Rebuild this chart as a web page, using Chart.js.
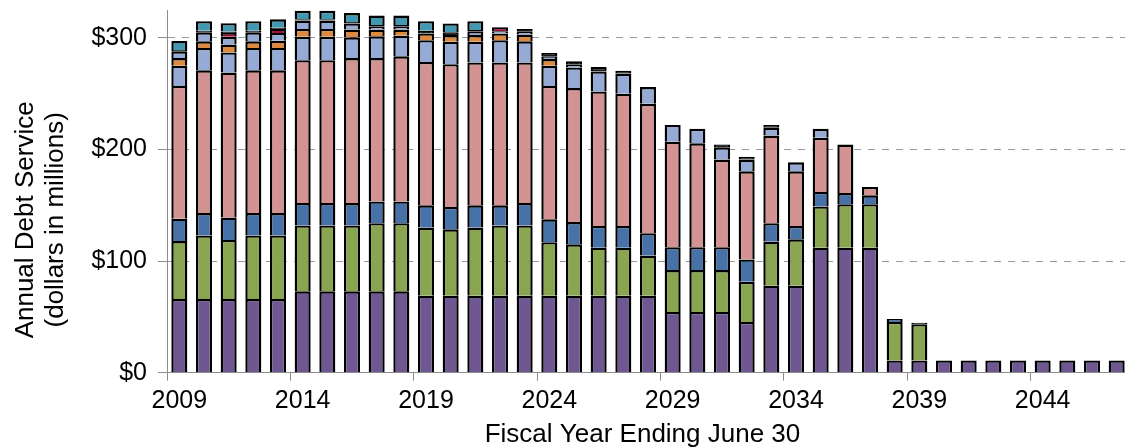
<!DOCTYPE html>
<html>
<head>
<meta charset="utf-8">
<script src="https://cdn.jsdelivr.net/npm/chart.js@4/dist/chart.umd.min.js"></script>
<style>
  html, body { margin: 0; padding: 0; background: #fff; overflow: hidden; }
  #wrap { position: relative; width: 1129px; height: 447px; }
</style>
</head>
<body>
<div id="wrap"><canvas id="c"></canvas></div>
<script>
const years = ['2009','2010','2011','2012','2013','2014','2015','2016','2017','2018','2019','2020','2021','2022','2023','2024','2025','2026','2027','2028','2029','2030','2031','2032','2033','2034','2035','2036','2037','2038','2039','2040','2041','2042','2043','2044','2045','2046','2047'];
const yTicks = [0, 100, 200, 300];
const xTitle = 'Fiscal Year Ending June 30';
const yTitle = ['Annual Debt Service', '(dollars in millions)'];

const seriesPurple  = [66,66,66,66,66, 73,73,73,73,73, 69,69,69,69,69, 69,69,69,69,69, 54.5,54.5,54.5,45.5,78, 78,112,112,112, 11,11, 11,11,11,11,11,11,11,11];
const seriesGreen   = [52,57,53,57,57, 59,59,59,61,61, 61,59.5,61,63,63, 48,46,43,43,36, 37.5,37.5,37.5,36,39.5, 41.5,37,39,39, 34.5,32.5, 0,0,0,0,0,0,0,0];
const seriesBlue    = [20,20,20,20,20, 20,20,20,19.5,19.5, 20,20,20,18,20, 20.5,20,19.5,19.5,20, 20.5,20.5,20.5,20,16.5, 12,13,10,8, 2.6,0, 0,0,0,0,0,0,0,0];
const seriesPink    = [119,128,130,128,128, 128,128,130,128.5,130, 128.5,128,128,128,126, 119.5,120,120.5,118.5,116, 94.5,93,78.5,79,78.5, 49,48.5,43.5,7.5, 0,0, 0,0,0,0,0,0,0,0];
const seriesLight   = [18,20,18,20,20, 21,21,18.5,19.5,18.5, 19.5,20,18.5,20,19, 18,18.5,18,18,15, 15,13,11,10.5,7, 8,8,0,0, 0,0, 0,0,0,0,0,0,0,0];
const seriesOrange  = [7,6,7,6,6.5, 7,7,7,6,5.5, 6,6,6,6,6, 6,0,0,0,0, 0,0,0,0,0, 0,0,0,0, 0,0, 0,0,0,0,0,0,0,0];
const seriesLight2  = [6,8,7,8,7, 7.5,7.5,5.5,2.5,2.5, 0,0,3,2,3, 2.5,2.5,0,0,0, 0,0,0,0,0, 0,0,0,0, 0,0, 0,0,0,0,0,0,0,0];
const seriesCrimson = [0,0,3.5,0,3.5, 0,0,0,0,0, 0,0,0,3.5,0, 0,0,0,0,0, 0,0,0,0,0, 0,0,0,0, 0,0, 0,0,0,0,0,0,0,0];
const seriesDark    = [1.2,1.5,1.2,1.5,1.2, 1.3,1.3,1.3,1.5,1.5, 2.5,2.5,1.5,0,2, 3,3,4,2.5,0, 0,0,2.5,2.5,2.5, 0,0,0,0, 0,1.3, 0,0,0,0,0,0,0,0];
const seriesTeal    = [8,8.5,7.5,8.5,7.5, 7.5,7.5,8,8.5,8.5, 8.5,8,8,0,0, 0,0,0,0,0, 0,0,0,0,0, 0,0,0,0, 0,0, 0,0,0,0,0,0,0,0];

const FONT = '"Liberation Sans", Arial, sans-serif';

function ds(data, color) {
  return {
    data: data,
    backgroundColor: color,
    borderColor: '#000000',
    borderWidth: 2.4,
    borderSkipped: 'start',
    barPercentage: 0.65,
    categoryPercentage: 1.0
  };
}

const axisTitles = {
  id: 'axisTitles',
  afterDraw(chart) {
    const ctx = chart.ctx;
    const xs = chart.scales.x;
    const area = chart.chartArea;
    ctx.save();
    ctx.fillStyle = '#000';
    ctx.font = '26px ' + FONT;
    ctx.textAlign = 'center';
    ctx.textBaseline = 'alphabetic';
    ctx.fillText(xTitle, (xs.left + xs.right) / 2 - 5.5, xs.bottom - 5.5);
    const cy = (area.top + area.bottom) / 2 + 28.5;
    const baselines = [33, 62.5];
    yTitle.forEach((t, i) => {
      ctx.save();
      ctx.translate(baselines[i], cy);
      ctx.rotate(-Math.PI / 2);
      ctx.fillText(t, 0, 0);
      ctx.restore();
    });
    ctx.restore();
  }
};

new Chart(document.getElementById('c'), {
  type: 'bar',
  data: {
    labels: years,
    datasets: [
      ds(seriesPurple, '#6F5892'),
      ds(seriesGreen, '#8AA54F'),
      ds(seriesBlue, '#4672A8'),
      ds(seriesPink, '#D39393'),
      ds(seriesLight, '#95AAD5'),
      ds(seriesOrange, '#DE8A3E'),
      ds(seriesLight2, '#95AAD5'),
      ds(seriesCrimson, '#A00F3C'),
      ds(seriesDark, '#1A1A1A'),
      ds(seriesTeal, '#4298B0')
    ]
  },
  options: {
    responsive: true,
    maintainAspectRatio: false,
    animation: false,
    layout: { padding: { top: 10, left: 0, right: 0, bottom: 0 } },
    plugins: { legend: { display: false }, tooltip: { enabled: false } },
    scales: {
      x: {
        stacked: true,
        offset: true,
        afterFit(scale) { scale.height = 74.3; scale.paddingLeft = 0; scale.paddingRight = 0; },
        grid: {
          display: true,
          offset: true,
          drawOnChartArea: false,
          drawTicks: true,
          tickLength: 8,
          color: '#8c8c8c',
          tickColor: (c) => (c.index % 5 === 0 ? '#8c8c8c' : 'rgba(0,0,0,0)')
        },
        border: { display: true, color: '#8c8c8c', width: 1 },
        ticks: {
          autoSkip: false,
          maxRotation: 0,
          minRotation: 0,
          padding: 5,
          color: '#000',
          font: { family: FONT, size: 25 },
          callback: function (v, i) { return i % 5 === 0 ? years[i] : ''; }
        }
      },
      y: {
        stacked: true,
        min: 0,
        max: 325,
        afterFit(scale) { scale.width = 167; scale.paddingTop = 0; scale.paddingBottom = 0; },
        afterBuildTicks(scale) { scale.ticks = yTicks.map(v => ({ value: v })); },
        grid: {
          display: true,
          drawTicks: true,
          tickLength: 9,
          color: '#9a9a9a',
          tickColor: '#8c8c8c',
          lineWidth: 1
        },
        border: { display: true, color: '#8c8c8c', width: 1, dash: [7, 7] },
        ticks: {
          padding: 11,
          color: '#000',
          font: { family: FONT, size: 25 },
          callback: (v) => '$' + v
        }
      }
    }
  },
  plugins: [axisTitles]
});
</script>
</body>
</html>
